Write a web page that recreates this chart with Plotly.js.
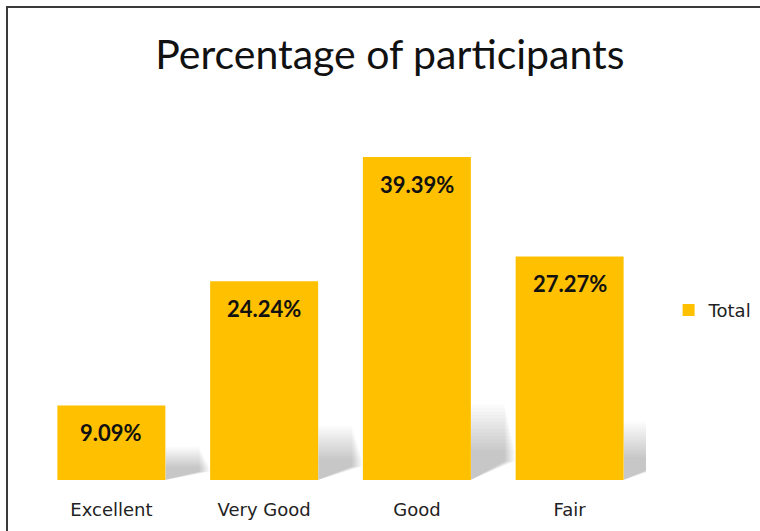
<!DOCTYPE html>
<html>
<head>
<meta charset="utf-8">
<script src="https://cdn.plot.ly/plotly-3.0.1.min.js"></script>
<style>
html,body{margin:0;padding:0;background:#fff;}
#wrap{position:relative;width:760px;height:531px;overflow:hidden;}
#chart{position:absolute;left:0;top:0;width:760px;height:531px;}
#frame{position:absolute;left:6px;top:6px;width:800px;height:600px;border-left:2px solid #3a3a3a;border-top:2px solid #3a3a3a;pointer-events:none;box-sizing:border-box;}
</style>
</head>
<body>
<div id="wrap"><div id="chart"></div><div id="frame"></div></div>
<script>
const categories = ["Excellent", "Very Good", "Good", "Fair"];
const totals = [9.09, 24.24, 39.39, 27.27];
const labels = ["9.09%", "24.24%", "39.39%", "27.27%"];
const seriesName = "Total";

const xs = categories.map((c, i) => i);
const barWidth = 0.707;

// soft shadows to the right of each bar, derived from the data values
const shapes = [];
totals.forEach((v, i) => {
  const xr = i + barWidth / 2;
  const w = 0.29;
  const h = 2.5 + 0.17 * v;
  const N = 14;
  for (let k = 0; k < N; k++) {
    const top = h * (0.35 + 0.65 * (k + 1) / N);
    const xw = xr + w * (0.75 + 0.25 * (N - k) / N);
    shapes.push({
      type: "path", xref: "x", yref: "y", layer: "below",
      path: `M ${xr},0 L ${xw},${h * 0.25} L ${xw},${top} L ${xr},${top} Z`,
      fillcolor: "rgba(0,0,0,0.016)", line: {width: 0}
    });
  }
});

const annotations = totals.map((v, i) => ({
  x: xs[i], y: v, xref: "x", yref: "y", text: "<b>" + labels[i] + "</b>",
  showarrow: false, yanchor: "middle", yshift: -27,
  font: {family: "Lato, Carlito, sans-serif", size: 22, color: "#111"}
}));

const data = [{
  type: "bar", x: xs, y: totals, name: seriesName, width: barWidth,
  marker: {color: "#FFC000", line: {width: 0}},
  hoverinfo: "skip", showlegend: true
}];

const layout = {
  width: 760, height: 531,
  margin: {l: 35, r: 114, t: 111, b: 51, pad: 0, autoexpand: false},
  paper_bgcolor: "rgba(0,0,0,0)", plot_bgcolor: "rgba(0,0,0,0)",
  title: {text: "Percentage of participants", x: 0.513, xref: "container", xanchor: "center",
          y: 0.897, yref: "container", yanchor: "middle",
          font: {family: "Lato, Carlito, sans-serif", size: 41, color: "#111", weight: 400}},
  xaxis: {type: "linear", range: [-0.5, 3.5], tickvals: xs, ticktext: categories,
          showgrid: false, zeroline: false, showline: false, ticks: "",
          ticklabelstandoff: 17,
          tickfont: {family: "DejaVu Sans, Verdana, sans-serif", size: 18, color: "#222"}, fixedrange: true},
  yaxis: {range: [0, 45], visible: false, fixedrange: true},
  showlegend: true,
  legend: {x: 1.037, xanchor: "left", y: 0.46, yanchor: "middle", itemwidth: 30,
           font: {family: "DejaVu Sans, Verdana, sans-serif", size: 18, color: "#222"},
           bgcolor: "rgba(0,0,0,0)"},
  shapes: shapes,
  annotations: annotations
};

Plotly.newPlot("chart", data, layout, {displayModeBar: false, staticPlot: true});
</script>
</body>
</html>
